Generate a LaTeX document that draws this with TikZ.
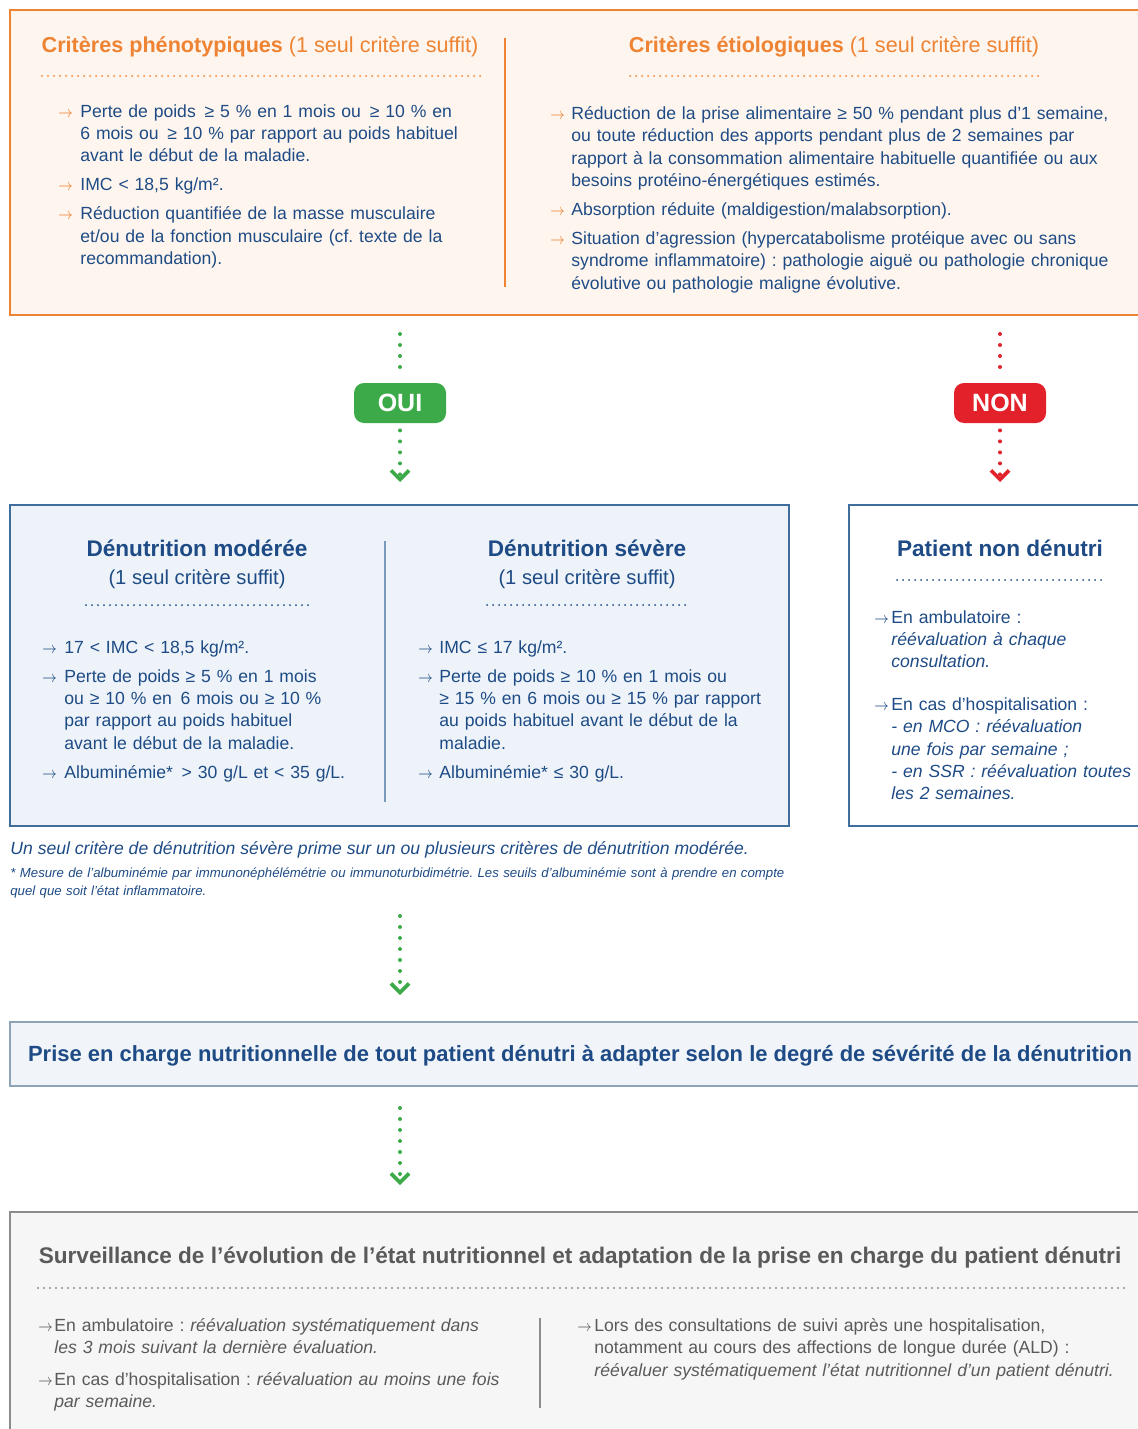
\documentclass[tikz,border=0pt]{standalone}
\usepackage{fontspec}
\setmainfont{Liberation Sans}
\usepackage{tikz}
\usetikzlibrary{arrows.meta}
\usetikzlibrary{positioning,fit}

\definecolor{hasorange}{HTML}{EE8433}
\definecolor{haspeach}{HTML}{FEF5EE}
\definecolor{hasblue}{HTML}{1E4B85}
\definecolor{hasfill}{HTML}{EDF3F9}
\definecolor{hasframe}{HTML}{3F6E9C}
\definecolor{hasgreen}{HTML}{3DAA49}
\definecolor{hasred}{HTML}{E3212A}
\definecolor{priseframe}{HTML}{8FA3B6}
\definecolor{prisefill}{HTML}{F1F5F9}
\definecolor{survgrey}{HTML}{5A5A5A}
\definecolor{survframe}{HTML}{8C8C8C}
\definecolor{survfill}{HTML}{F6F6F6}

% bullet arrow, colour #1
\newcommand{\barrow}[1]{{\color{#1}\fontsize{8}{9}\selectfont\scalebox{0.85}[1]{$\rightarrow$}}}
% first bullet of a list (no \par), hanging indent #1
\newcommand{\fitem}[2][11pt]{\noindent\hangindent=#1\hangafter=1%
  \makebox[#1][l]{\barrow{#2}}}
% next bullets
\newcommand{\bitem}[2][11pt]{\par\fitem[#1]{#2}}

\begin{document}
\frenchspacing
\begin{tikzpicture}[x=0.5pt,y=-0.5pt,
  bigbox/.style={rectangle,inner sep=0pt,line width=1pt},
  rule/.style={line width=0.6pt},
  smalldots/.style={line width=1pt,line cap=round,dash pattern=on 0pt off 3pt},
  flow/.style={line width=2pt,line cap=round,dash pattern=on 0pt off 5.5pt,
    -{Straight Barb[length=4.5pt,width=9pt,line width=1.8pt]}},
  answer/.style={rectangle,rounded corners=5pt,minimum width=46pt,minimum height=20pt,
    text=white,font=\fontsize{12.5}{14}\selectfont\bfseries},
  list/.style={anchor=north west,inner sep=0pt,text width=#1,
    font=\fontsize{8.8}{11.2}\selectfont\setlength{\parskip}{3.3pt}},
  head/.style={anchor=base,inner sep=0pt,font=\fontsize{10.8}{13}\selectfont},
  subhead/.style={anchor=base,inner sep=0pt,font=\fontsize{10.1}{12}\selectfont},
  boldhead/.style={anchor=base,inner sep=0pt,font=\fontsize{11.3}{13}\selectfont\bfseries}]
\useasboundingbox (0,0) rectangle (1138,1429);

% --- criteres ---
\node[bigbox,draw=hasorange,fill=haspeach,fit={(10,10)(1160,315)}] (crit) {};
\draw[rule,hasorange] (505,38) -- (505,287);
\node[head,text=hasorange] (phenohead) at (260,53)
  {\textbf{Critères phénotypiques} (1 seul critère suffit)};
\node[head,text=hasorange] (etiohead) at (834,53)
  {\textbf{Critères étiologiques} (1 seul critère suffit)};
\draw[smalldots,hasorange] (42,76) -- (480,76);
\draw[smalldots,hasorange] (630,76) -- (1040,76);

\node[list=240pt,text=hasblue] (phenolist) at (58,104) {\raggedright
  \fitem{hasorange}Perte de poids \,≥ 5 \% en 1 mois ou \,≥ 10 \% en\newline
  6 mois ou \,≥ 10 \% par rapport au poids habituel\newline
  avant le début de la maladie.
  \bitem{hasorange}IMC < 18,5 kg/m².
  \bitem{hasorange}Réduction quantifiée de la masse musculaire\newline
  et/ou de la fonction musculaire (cf. texte de la\newline
  recommandation).\par};
\node[list=300pt,text=hasblue] (etiolist) at (550,106) {\raggedright
  \fitem[10.5pt]{hasorange}Réduction de la prise alimentaire ≥ 50 \% pendant plus d’1 semaine,\newline
  ou toute réduction des apports pendant plus de 2 semaines par\newline
  rapport à la consommation alimentaire habituelle quantifiée ou aux\newline
  besoins protéino-énergétiques estimés.
  \bitem[10.5pt]{hasorange}Absorption réduite (maldigestion/malabsorption).
  \bitem[10.5pt]{hasorange}Situation d’agression (hypercatabolisme protéique avec ou sans\newline
  syndrome inflammatoire) : pathologie aiguë ou pathologie chronique\newline
  évolutive ou pathologie maligne évolutive.\par};

% --- oui / non ---
\node[answer,fill=hasgreen] (oui) at (400,403) {OUI};
\node[answer,fill=hasred] (non) at (1000,403) {NON};

% --- denutrition ---
\node[bigbox,draw=hasframe,fill=hasfill,fit={(10,505)(789,826)}] (denut) {};
\node[bigbox,draw=hasframe,fill=white,fit={(849,505)(1160,826)}] (nondenut) {};
\draw[rule,hasframe!70] (385,541) -- (385,802);

\node[boldhead,text=hasblue] (modhead) at (197,556) {Dénutrition modérée};
\node[subhead,text=hasblue] (modsub) at (197,584) {(1 seul critère suffit)};
\node[boldhead,text=hasblue] (sevhead) at (587,556) {Dénutrition sévère};
\node[subhead,text=hasblue] (sevsub) at (587,584) {(1 seul critère suffit)};
\node[boldhead,text=hasblue] (nonhead) at (1000,556) {Patient non dénutri};
\draw[smalldots,hasblue] (86,605) -- (310,605);
\draw[smalldots,hasblue] (487,605) -- (688,605);
\draw[smalldots,hasblue] (897,580) -- (1105,580);

\node[list=175pt,text=hasblue] (modlist) at (42,640) {\raggedright
  \fitem{hasblue}17 < IMC < 18,5 kg/m².
  \bitem{hasblue}Perte de poids ≥ 5 \% en 1 mois\newline
  ou ≥ 10 \% en \,6 mois ou ≥ 10 \%\newline
  par rapport au poids habituel\newline
  avant le début de la maladie.
  \bitem{hasblue}Albuminémie* \,> 30 g/L et < 35 g/L.\par};
\node[list=190pt,text=hasblue] (sevlist) at (418,640) {\raggedright
  \fitem[10.5pt]{hasblue}IMC ≤ 17 kg/m².
  \bitem[10.5pt]{hasblue}Perte de poids ≥ 10 \% en 1 mois ou\newline
  ≥ 15 \% en 6 mois ou ≥ 15 \% par rapport\newline
  au poids habituel avant le début de la\newline
  maladie.
  \bitem[10.5pt]{hasblue}Albuminémie* ≤ 30 g/L.\par};
\node[list=150pt,text=hasblue] (nonlist) at (874,610) {\setlength{\parskip}{10pt}\raggedright
  \fitem[8.5pt]{hasblue}En ambulatoire :\newline
  \textit{réévaluation à chaque\newline consultation.}
  \bitem[8.5pt]{hasblue}En cas d’hospitalisation :\newline
  \textit{- en MCO : réévaluation\newline une fois par semaine ;\newline
  - en SSR : réévaluation toutes\newline les 2 semaines.}\par};

\node[anchor=base west,inner sep=0pt,text=hasblue,font=\fontsize{8.8}{11}\selectfont\itshape] (note) at (10,854)
  {Un seul critère de dénutrition sévère prime sur un ou plusieurs critères de dénutrition modérée.};
\node[anchor=north west,inner sep=0pt,text width=420pt,text=hasblue,font=\fontsize{6.6}{9}\selectfont\itshape] (footnote) at (10,867)
  {\raggedright * Mesure de l’albuminémie par immunonéphélémétrie ou immunoturbidimétrie. Les seuils d’albuminémie sont à prendre en compte\newline
  quel que soit l’état inflammatoire.\par};

% --- prise en charge ---
\node[bigbox,draw=priseframe,fill=prisefill,fit={(10,1022)(1151,1086)}] (prise) {};
\node[boldhead,text=hasblue,font=\fontsize{11}{13}\selectfont\bfseries] (prisetext) at (580,1061)
  {Prise en charge nutritionnelle de tout patient dénutri à adapter selon le degré de sévérité de la dénutrition};

% --- surveillance ---
\node[bigbox,draw=survframe,fill=survfill,fit={(10,1212)(1151,1445)}] (surv) {};
\node[boldhead,text=survgrey] (survhead) at (580,1263)
  {Surveillance de l’évolution de l’état nutritionnel et adaptation de la prise en charge du patient dénutri};
\draw[smalldots,survgrey,line width=0.8pt] (38,1288) -- (1125,1288);
\draw[rule,survframe] (540,1318) -- (540,1408);
\node[list=250pt,text=survgrey] (survleft) at (38,1318) {\setlength{\parskip}{4.5pt}\raggedright
  \fitem[8pt]{survgrey}En ambulatoire : \textit{réévaluation systématiquement dans\newline
  les 3 mois suivant la dernière évaluation.}
  \bitem[8pt]{survgrey}En cas d’hospitalisation : \textit{réévaluation au moins une fois\newline
  par semaine.}\par};
\node[list=290pt,text=survgrey] (survright) at (577,1318) {\raggedright
  \fitem[8.5pt]{survgrey}Lors des consultations de suivi après une hospitalisation,\newline
  notamment au cours des affections de longue durée (ALD) :\newline
  \textit{réévaluer systématiquement l’état nutritionnel d’un patient dénutri.}\par};

% --- fleches ---
\draw[flow,hasgreen,-] (oui |- crit.south) [shorten <=9pt,shorten >=3pt] -- (oui.north);
\draw[flow,hasgreen] (oui.south) [shorten <=3.5pt,shorten >=11pt] -- (oui |- denut.north);
\draw[flow,hasred,-] (non |- crit.south) [shorten <=9pt,shorten >=3pt] -- (non.north);
\draw[flow,hasred] (non.south) [shorten <=3.5pt,shorten >=11pt] -- (non |- nondenut.north);
\draw[flow,hasgreen] (oui |- denut.south) [shorten <=44.5pt,shorten >=13pt] -- (oui |- prise.north);
\draw[flow,hasgreen] (oui |- prise.south) [shorten <=10.5pt,shorten >=13pt] -- (oui |- surv.north);
\end{tikzpicture}
\end{document}
